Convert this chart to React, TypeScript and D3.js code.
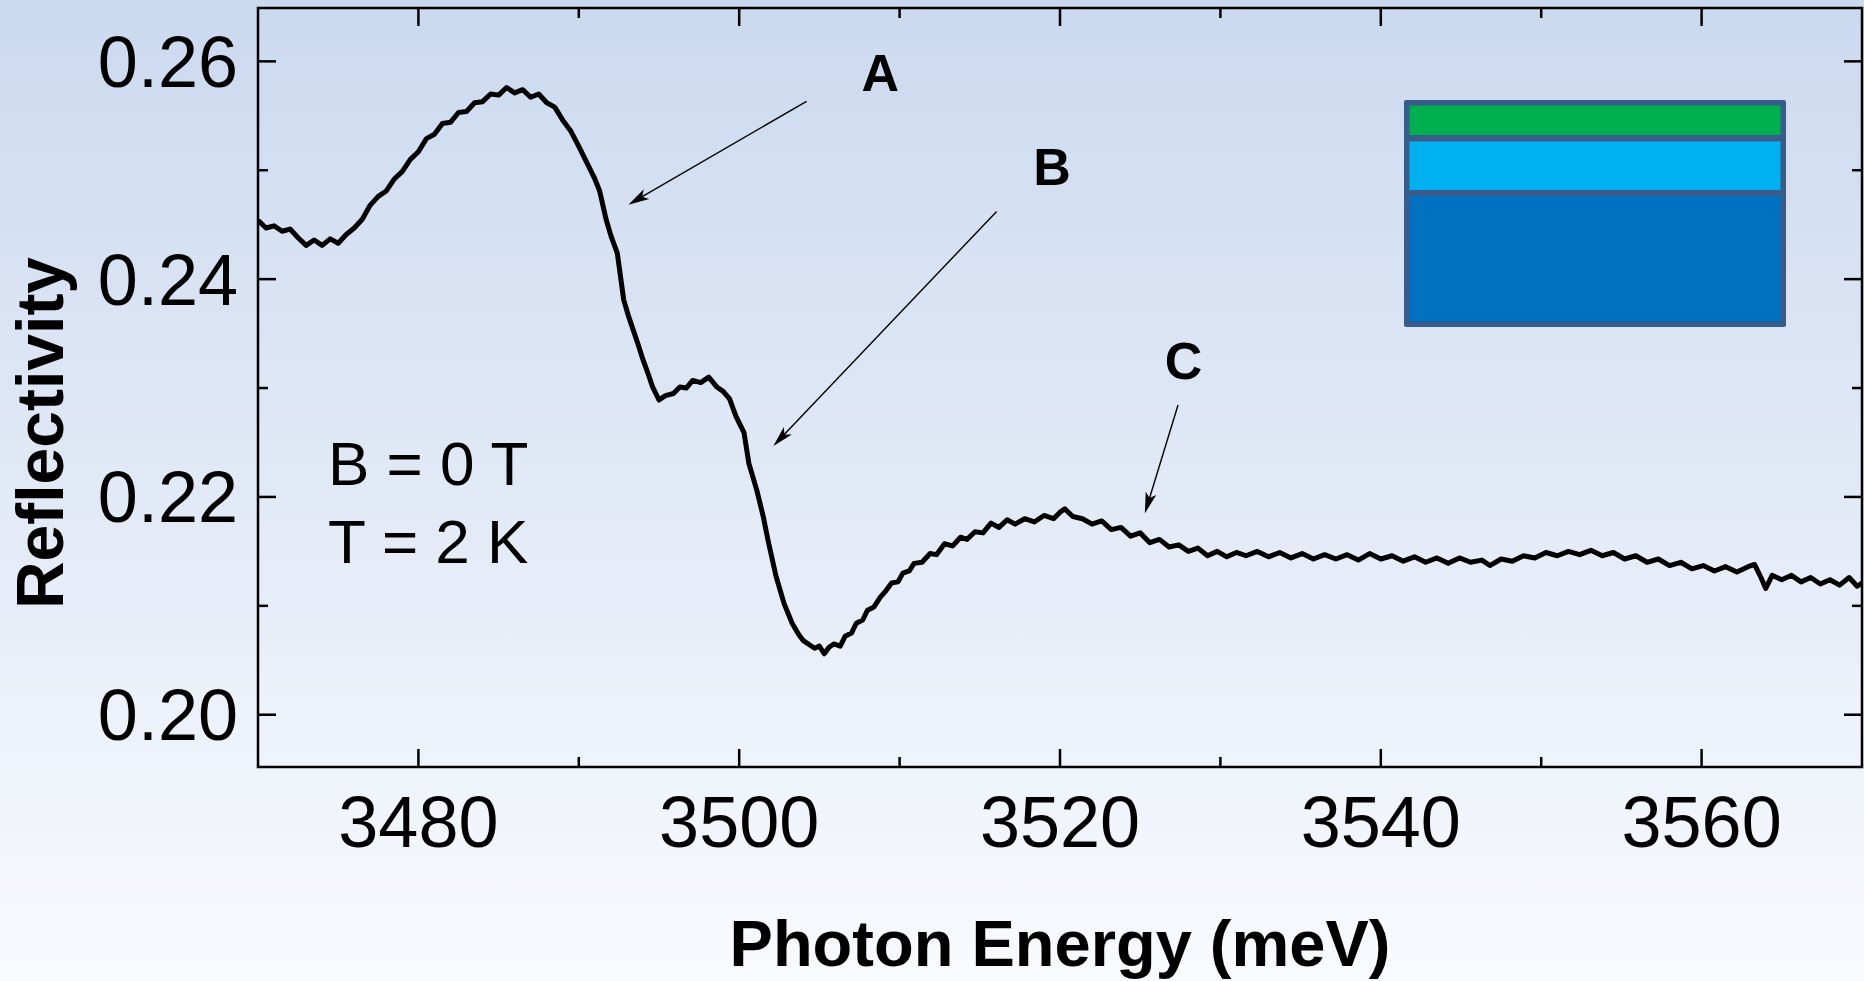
import React, { useEffect } from "react";
import * as d3 from "d3";

// ---- data ----
const energy = [
  3470.0, 3470.5, 3471.0, 3471.5, 3472.0, 3472.5, 3473.0, 3473.5, 3474.0, 3474.5,
  3475.0, 3475.5, 3476.0, 3476.5, 3477.0, 3477.5, 3478.0, 3478.5, 3479.0, 3479.5,
  3480.0, 3480.5, 3481.0, 3481.5, 3482.0, 3482.5, 3483.0, 3483.5, 3484.0, 3484.5,
  3485.0, 3485.5, 3486.0, 3486.5, 3487.0, 3487.5, 3488.0, 3488.5, 3489.0, 3489.5,
  3490.0, 3490.5, 3491.0, 3491.3, 3491.7, 3492.0, 3492.4, 3492.8, 3493.1, 3493.4,
  3493.7, 3494.0, 3494.3, 3494.6, 3495.0, 3495.4, 3495.9, 3496.3, 3496.7, 3497.1,
  3497.6, 3498.1, 3498.6, 3499.0, 3499.4, 3499.8, 3500.3, 3500.6, 3501.1, 3501.5,
  3501.8, 3502.3, 3502.8, 3503.3, 3503.7, 3504.0, 3504.4, 3504.7, 3505.0, 3505.3,
  3505.6, 3505.9, 3506.3, 3506.6, 3507.0, 3507.3, 3507.7, 3508.0, 3508.4, 3508.8,
  3509.1, 3509.5, 3509.9, 3510.2, 3510.6, 3510.9, 3511.4, 3511.9, 3512.3, 3512.8,
  3513.3, 3513.8, 3514.2, 3514.7, 3515.2, 3515.7, 3516.2, 3516.7, 3517.2, 3517.8,
  3518.4, 3519.0, 3519.6, 3520.0, 3520.3, 3520.8, 3521.4, 3522.0, 3522.6, 3523.2,
  3523.8, 3524.4, 3525.0, 3525.6, 3526.2, 3526.8, 3527.4, 3528.0, 3528.6, 3529.2,
  3529.8, 3530.4, 3531.0, 3531.6, 3532.3, 3533.0, 3533.7, 3534.4, 3535.1, 3535.8,
  3536.5, 3537.2, 3537.9, 3538.6, 3539.3, 3540.0, 3540.7, 3541.4, 3542.1, 3542.8,
  3543.5, 3544.2, 3544.9, 3545.6, 3546.3, 3546.8, 3547.5, 3548.2, 3548.9, 3549.6,
  3550.3, 3551.0, 3551.7, 3552.4, 3553.1, 3553.8, 3554.5, 3555.2, 3555.9, 3556.6,
  3557.3, 3558.0, 3558.7, 3559.4, 3560.1, 3560.8, 3561.5, 3562.2, 3562.9, 3563.3,
  3563.7, 3564.0, 3564.4, 3565.0, 3565.6, 3566.2, 3566.8, 3567.4, 3568.0, 3568.6,
  3569.2, 3569.7, 3570.0,
];

const reflectivity = [
  0.2454, 0.2447, 0.2449, 0.2444, 0.2446, 0.2438, 0.2431, 0.2436, 0.2431, 0.2437,
  0.2433, 0.2441, 0.2447, 0.2455, 0.2468, 0.2476, 0.2481, 0.2492, 0.2499, 0.2510,
  0.2517, 0.2529, 0.2533, 0.2543, 0.2544, 0.2553, 0.2554, 0.2562, 0.2563, 0.2570,
  0.2569, 0.2576, 0.2571, 0.2574, 0.2567, 0.2570, 0.2562, 0.2558, 0.2546, 0.2536,
  0.2522, 0.2507, 0.2492, 0.2481, 0.2455, 0.2440, 0.2424, 0.2381, 0.2366, 0.2353,
  0.2340, 0.2326, 0.2314, 0.2301, 0.2289, 0.2293, 0.2295, 0.2301, 0.2300, 0.2307,
  0.2305, 0.2310, 0.2301, 0.2297, 0.2290, 0.2274, 0.2259, 0.2231, 0.2206, 0.2182,
  0.2160, 0.2127, 0.2102, 0.2084, 0.2074, 0.2068, 0.2064, 0.2061, 0.2063, 0.2056,
  0.2062, 0.2065, 0.2063, 0.2072, 0.2075, 0.2084, 0.2087, 0.2096, 0.2099, 0.2108,
  0.2113, 0.2121, 0.2122, 0.2130, 0.2132, 0.2139, 0.2140, 0.2148, 0.2147, 0.2157,
  0.2155, 0.2163, 0.2161, 0.2168, 0.2167, 0.2176, 0.2172, 0.2179, 0.2175, 0.2180,
  0.2177, 0.2183, 0.2180, 0.2186, 0.2189, 0.2182, 0.2180, 0.2175, 0.2178, 0.2170,
  0.2172, 0.2164, 0.2167, 0.2158, 0.2161, 0.2154, 0.2156, 0.2150, 0.2153, 0.2146,
  0.2150, 0.2145, 0.2149, 0.2146, 0.2150, 0.2145, 0.2149, 0.2144, 0.2148, 0.2143,
  0.2147, 0.2143, 0.2147, 0.2142, 0.2148, 0.2143, 0.2146, 0.2141, 0.2145, 0.2140,
  0.2144, 0.2139, 0.2144, 0.2140, 0.2142, 0.2137, 0.2143, 0.2141, 0.2146, 0.2144,
  0.2149, 0.2146, 0.2150, 0.2147, 0.2151, 0.2146, 0.2149, 0.2143, 0.2146, 0.2140,
  0.2143, 0.2137, 0.2140, 0.2134, 0.2137, 0.2132, 0.2136, 0.2131, 0.2136, 0.2138,
  0.2126, 0.2116, 0.2128, 0.2124, 0.2128, 0.2122, 0.2126, 0.2120, 0.2124, 0.2119,
  0.2126, 0.2118, 0.2121,
];

const xMajorTicks = [3480, 3500, 3520, 3540, 3560];
const xMinorTicks = [3490, 3510, 3530, 3550];
const yMajorTicks = [0.2, 0.22, 0.24, 0.26];
const yMinorTicks = [0.21, 0.23, 0.25];
const yTickLabels = ["0.20", "0.22", "0.24", "0.26"];

const xTitle = "Photon Energy (meV)";
const yTitle = "Reflectivity";

// annotations (data coordinates)
const peakLabels = ["A", "B", "C"];
const peakLabelE = [3508.8, 3519.5, 3527.7];
const peakLabelR = [0.2573, 0.2486, 0.2308];
const arrowFromE = [3504.2, 3516.05, 3527.36];
const arrowFromR = [0.25633, 0.24622, 0.22845];
const arrowToE = [3493.09, 3502.13, 3525.29];
const arrowToR = [0.24684, 0.22468, 0.21849];

const conditions = ["B = 0 T", "T = 2 K"];
const conditionE = [3474.36, 3474.36];
const conditionR = [0.2211, 0.21393];

const W = 1864;
const H = 981;
const M = { left: 258, right: 1862, top: 8, bottom: 767 };

function arrowHead(x1: number, y1: number, x2: number, y2: number) {
  const a = Math.atan2(y2 - y1, x2 - x1);
  const L = 21, hw = 5.5, notch = 16;
  const ux = Math.cos(a), uy = Math.sin(a);
  const px = -uy, py = ux;
  const bx = x2 - ux * L, by = y2 - uy * L;
  const nx = x2 - ux * notch, ny = y2 - uy * notch;
  return `M${x2},${y2}L${bx + px * hw},${by + py * hw}L${nx},${ny}L${bx - px * hw},${by - py * hw}Z`;
}

export default function App() {
  useEffect(() => {
    document.body.style.margin = "0";
    document.body.style.overflow = "hidden";
  }, []);

  const x = d3.scaleLinear().domain([3470, 3570]).range([M.left, M.right]);
  const y = d3.scaleLinear().domain([0.1952, 0.2649]).range([M.bottom, M.top]);

  const pts: [number, number][] = energy.map((e, i) => [e, reflectivity[i]]);
  const line = d3
    .line<[number, number]>()
    .x((d) => x(d[0]))
    .y((d) => y(d[1]));

  const font = "'Liberation Sans', Arial, Helvetica, sans-serif";
  const majorLen = 18;
  const minorLen = 10;
  const axisW = 2.5;

  // inset layer sketch (pixel layout)
  const box = { x: 1404, y: 100, w: 382, h: 227, b: 5.5 };

  return (
    <svg
      width={W}
      height={H}
      viewBox={`0 0 ${W} ${H}`}
      style={{ display: "block", position: "absolute", left: 0, top: 0 }}
    >
      <defs>
        <linearGradient id="bg" x1="0" y1="0" x2="0" y2="1">
          <stop offset="0" stopColor="#cbd9ef" />
          <stop offset="1" stopColor="#f9fafe" />
        </linearGradient>
        <clipPath id="plotClip">
          <rect x={M.left} y={M.top} width={M.right - M.left} height={M.bottom - M.top} />
        </clipPath>
      </defs>
      <rect x={0} y={0} width={W} height={H} fill="url(#bg)" />

      {/* inset: layer structure */}
      <g>
        <rect x={box.x} y={box.y} width={box.w} height={box.h} rx={2} fill="#385d8a" />
        <rect x={box.x + box.b} y={box.y + box.b} width={box.w - 2 * box.b} height={29.5} fill="#00b050" />
        <rect x={box.x + box.b} y={141.5} width={box.w - 2 * box.b} height={48.5} fill="#00b0f0" />
        <rect x={box.x + box.b} y={196} width={box.w - 2 * box.b} height={box.y + box.h - box.b - 196} fill="#0070c0" />
      </g>

      {/* data */}
      <path
        d={line(pts) || ""}
        fill="none"
        stroke="#000"
        strokeWidth={5}
        strokeLinejoin="round"
        clipPath="url(#plotClip)"
      />

      {/* frame */}
      <rect
        x={M.left}
        y={M.top}
        width={M.right - M.left}
        height={M.bottom - M.top}
        fill="none"
        stroke="#000"
        strokeWidth={axisW}
      />

      {/* x ticks bottom & top */}
      {xMajorTicks.map((t) => (
        <g key={"xM" + t}>
          <line x1={x(t)} x2={x(t)} y1={M.bottom} y2={M.bottom - majorLen} stroke="#000" strokeWidth={axisW} />
          <line x1={x(t)} x2={x(t)} y1={M.top} y2={M.top + majorLen} stroke="#000" strokeWidth={axisW} />
          <text x={x(t)} y={847} textAnchor="middle" fontFamily={font} fontSize={72} fill="#000">
            {t}
          </text>
        </g>
      ))}
      {xMinorTicks.map((t) => (
        <g key={"xm" + t}>
          <line x1={x(t)} x2={x(t)} y1={M.bottom} y2={M.bottom - minorLen} stroke="#000" strokeWidth={axisW} />
          <line x1={x(t)} x2={x(t)} y1={M.top} y2={M.top + minorLen} stroke="#000" strokeWidth={axisW} />
        </g>
      ))}

      {/* y ticks left & right */}
      {yMajorTicks.map((t, i) => (
        <g key={"yM" + t}>
          <line x1={M.left} x2={M.left + majorLen} y1={y(t)} y2={y(t)} stroke="#000" strokeWidth={axisW} />
          <line x1={M.right} x2={M.right - majorLen} y1={y(t)} y2={y(t)} stroke="#000" strokeWidth={axisW} />
          <text
            x={M.left - 20}
            y={y(t)}
            dy="0.355em"
            textAnchor="end"
            fontFamily={font}
            fontSize={72}
            fill="#000"
          >
            {yTickLabels[i]}
          </text>
        </g>
      ))}
      {yMinorTicks.map((t) => (
        <g key={"ym" + t}>
          <line x1={M.left} x2={M.left + minorLen} y1={y(t)} y2={y(t)} stroke="#000" strokeWidth={axisW} />
          <line x1={M.right} x2={M.right - minorLen} y1={y(t)} y2={y(t)} stroke="#000" strokeWidth={axisW} />
        </g>
      ))}

      {/* axis titles */}
      <text
        x={(M.left + M.right) / 2}
        y={966}
        textAnchor="middle"
        fontFamily={font}
        fontWeight="bold"
        fontSize={65}
        fill="#000"
      >
        {xTitle}
      </text>
      <text
        transform={`translate(63,433) rotate(-90)`}
        textAnchor="middle"
        fontFamily={font}
        fontWeight="bold"
        fontSize={66}
        fill="#000"
      >
        {yTitle}
      </text>

      {/* condition text */}
      {conditions.map((c, i) => (
        <text key={c} x={x(conditionE[i])} y={y(conditionR[i])} fontFamily={font} fontSize={62} fill="#000">
          {c}
        </text>
      ))}

      {/* peak annotations */}
      {peakLabels.map((lab, i) => {
        const x1 = x(arrowFromE[i]), y1 = y(arrowFromR[i]);
        const x2 = x(arrowToE[i]), y2 = y(arrowToR[i]);
        const a = Math.atan2(y2 - y1, x2 - x1);
        const sx = x2 - Math.cos(a) * 14, sy = y2 - Math.sin(a) * 14;
        return (
          <g key={lab}>
            <text
              x={x(peakLabelE[i])}
              y={y(peakLabelR[i])}
              textAnchor="middle"
              fontFamily={font}
              fontWeight="bold"
              fontSize={52}
              fill="#000"
            >
              {lab}
            </text>
            <line x1={x1} y1={y1} x2={sx} y2={sy} stroke="#000" strokeWidth={1.4} />
            <path d={arrowHead(x1, y1, x2, y2)} fill="#000" />
          </g>
        );
      })}
    </svg>
  );
}
